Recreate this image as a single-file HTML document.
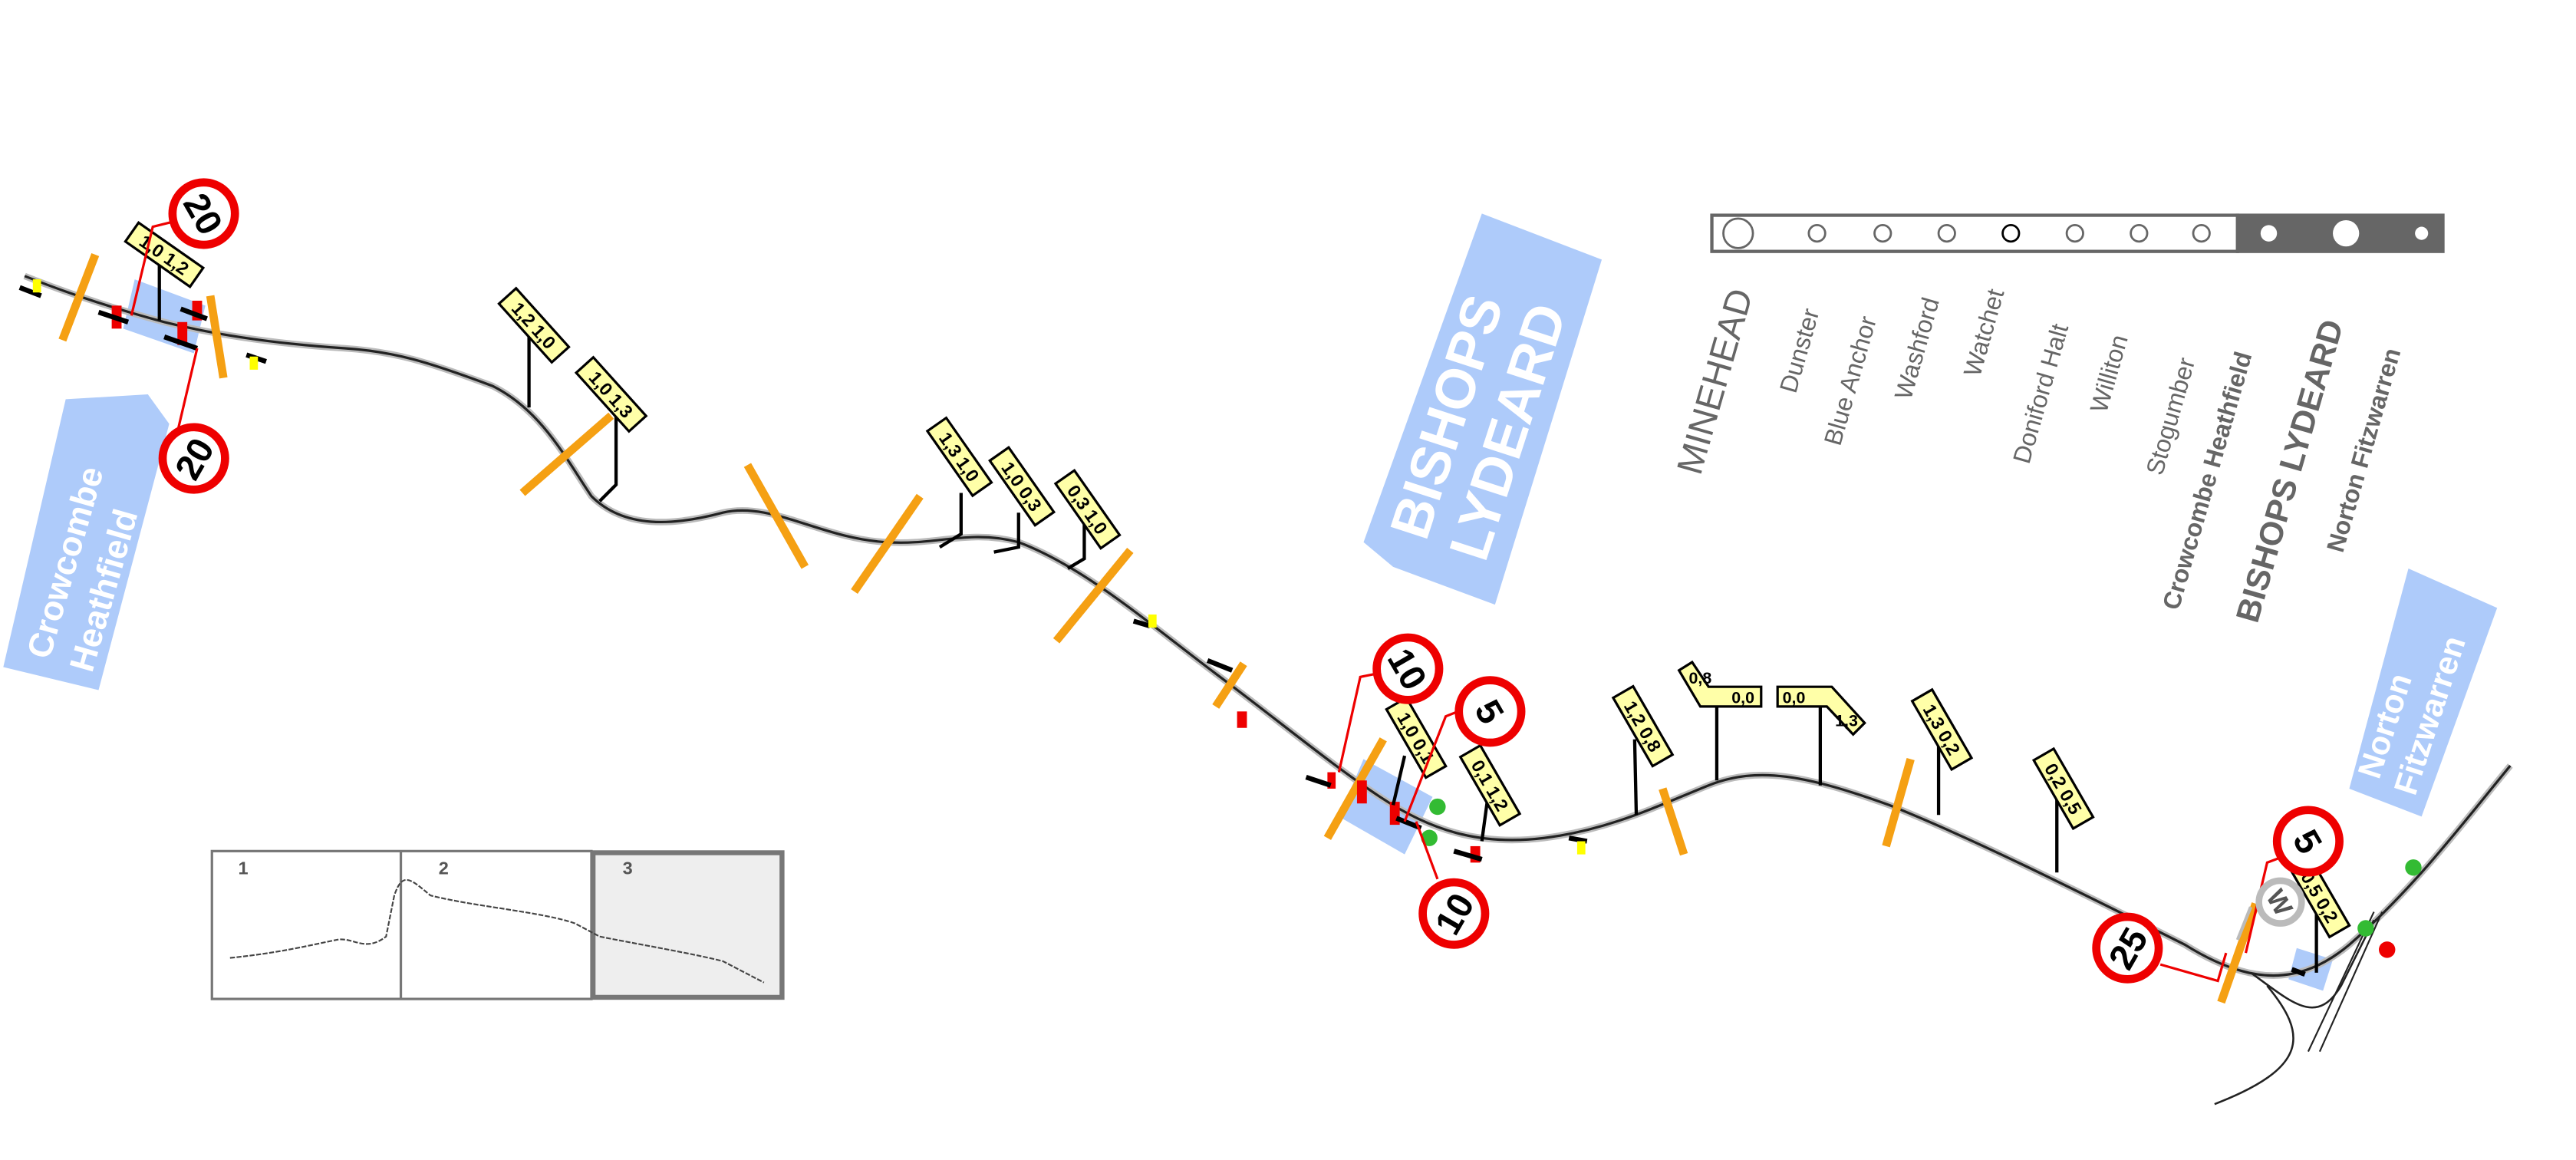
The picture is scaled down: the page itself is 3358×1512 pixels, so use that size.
<!DOCTYPE html>
<html><head><meta charset="utf-8"><style>
html,body{margin:0;padding:0;background:#fff;}
svg{display:block;}
text{font-family:"Liberation Sans",sans-serif;}
</style></head><body>
<svg width="3358" height="1512" viewBox="0 0 1568 706" xmlns="http://www.w3.org/2000/svg">
<rect width="1568" height="706" fill="#fff"/>
<!-- blue station labels -->
<polygon points="40,243 90,240 103,258 60,420 2,406" fill="#aecbfa"/>
<text transform="translate(30,402) rotate(-74)" font-size="21" font-weight="bold" fill="#fff">Crowcombe</text>
<text transform="translate(56,410) rotate(-74)" font-size="21" font-weight="bold" fill="#fff">Heathfield</text>
<polygon points="902,130 975,158 910,368 848,345 830,330" fill="#aecbfa"/>
<text transform="translate(868,330) rotate(-72)" font-size="34" font-weight="bold" fill="#fff">BISHOPS</text>
<text transform="translate(904,343) rotate(-72)" font-size="34" font-weight="bold" fill="#fff">LYDEARD</text>
<polygon points="1466,346 1520,370 1474,497 1430,480" fill="#aecbfa"/>
<text transform="translate(1448,475) rotate(-72)" font-size="20" font-weight="bold" fill="#fff">Norton</text>
<text transform="translate(1470,485) rotate(-72)" font-size="20" font-weight="bold" fill="#fff">Fitzwarren</text>
<!-- station rects -->
<polygon points="82,170 125,186 118,215 75,200" fill="#aecbfa"/>
<polygon points="830,462 872,485 855,520 815,497" fill="#aecbfa"/>
<polygon points="1398,577 1420,584 1414,603 1393,596" fill="#aecbfa"/>
<!-- track -->
<path d="M15,168 C40,178 70,188 100,196 C140,206 180,210 210,212 C240,214 260,220 300,235 C330,250 345,280 360,302 C380,322 410,320 440,312 C470,305 500,328 540,330 C570,332 590,322 620,330 C660,345 700,380 740,410 C780,440 810,465 840,485 C870,505 900,515 940,510 C980,505 1010,490 1040,478 C1070,466 1100,472 1150,490 C1200,510 1260,540 1330,575 C1370,600 1400,600 1430,575 C1470,540 1500,500 1528,466" fill="none" stroke="#bbb" stroke-width="4"/>
<path d="M15,168 C40,178 70,188 100,196 C140,206 180,210 210,212 C240,214 260,220 300,235 C330,250 345,280 360,302 C380,322 410,320 440,312 C470,305 500,328 540,330 C570,332 590,322 620,330 C660,345 700,380 740,410 C780,440 810,465 840,485 C870,505 900,515 940,510 C980,505 1010,490 1040,478 C1070,466 1100,472 1150,490 C1200,510 1260,540 1330,575 C1370,600 1400,600 1430,575 C1470,540 1500,500 1528,466" fill="none" stroke="#222" stroke-width="1.5"/>
<path d="M1370,592 C1395,610 1410,625 1425,600 L1445,560" fill="none" stroke="#222" stroke-width="1.2"/>
<path d="M1380,600 C1405,630 1405,650 1348,672" fill="none" stroke="#222" stroke-width="1.2"/>
<path d="M1405,640 L1445,555 M1412,640 L1450,555" fill="none" stroke="#222" stroke-width="1"/>
<!-- orange crossings -->
<g stroke="#f5a013" stroke-width="5">
<line x1="58" y1="155" x2="38" y2="207"/><line x1="128" y1="180" x2="136" y2="230"/>
<line x1="372" y1="253" x2="318" y2="300"/><line x1="455" y1="283" x2="490" y2="345"/>
<line x1="560" y1="302" x2="520" y2="360"/><line x1="688" y1="335" x2="643" y2="390"/>
<line x1="757" y1="404" x2="740" y2="430"/><line x1="842" y1="450" x2="808" y2="510"/>
<line x1="1012" y1="480" x2="1025" y2="520"/><line x1="1163" y1="462" x2="1148" y2="515"/>
<line x1="1373" y1="550" x2="1352" y2="610"/>
</g>
<!-- signals -->
<g fill="#e00">
<rect x="68" y="186" width="6" height="14"/><rect x="117" y="183" width="6" height="12"/><rect x="108" y="196" width="6" height="14"/>
<rect x="753" y="433" width="6" height="10"/><rect x="826" y="475" width="6" height="14"/><rect x="846" y="488" width="6" height="14"/><rect x="895" y="515" width="6" height="10"/><rect x="808" y="470" width="5" height="10"/>
</g>
<g stroke="#000" stroke-width="3">
<line x1="60" y1="190" x2="78" y2="196"/><line x1="110" y1="188" x2="126" y2="194"/><line x1="100" y1="205" x2="120" y2="212"/>
<line x1="12" y1="175" x2="25" y2="180"/><line x1="150" y1="216" x2="162" y2="220"/>
<line x1="735" y1="402" x2="750" y2="408"/><line x1="795" y1="473" x2="810" y2="478"/><line x1="850" y1="498" x2="865" y2="504"/><line x1="885" y1="518" x2="902" y2="523"/><line x1="955" y1="510" x2="966" y2="512"/><line x1="690" y1="378" x2="700" y2="381"/><line x1="1395" y1="590" x2="1403" y2="593"/>
</g>
<g fill="#ff0"><rect x="20" y="170" width="5" height="8"/><rect x="152" y="217" width="5" height="8"/><rect x="960" y="512" width="5" height="8"/><rect x="699" y="374" width="5" height="8"/></g>
<g fill="#3b3"><circle cx="875" cy="491" r="5"/><circle cx="870" cy="510" r="5"/><circle cx="1469" cy="528" r="5"/><circle cx="1440" cy="565" r="5"/></g>
<circle cx="1453" cy="578" r="5" fill="#e00"/>
<!-- tag leaders -->
<g stroke="#000" stroke-width="2" fill="none">
<line x1="97" y1="160" x2="97" y2="195"/><line x1="322" y1="202" x2="322" y2="248"/><polyline points="375,248 375,295 365,305"/>
<polyline points="585,300 585,325 572,333"/><polyline points="620,312 620,333 605,336"/><polyline points="660,312 660,340 650,346"/>
<line x1="855" y1="460" x2="848" y2="490"/><line x1="907" y1="475" x2="902" y2="512"/>
<line x1="995" y1="450" x2="996" y2="496"/><line x1="1045" y1="423" x2="1045" y2="475"/><line x1="1108" y1="420" x2="1108" y2="478"/>
<line x1="1180" y1="448" x2="1180" y2="496"/><line x1="1252" y1="470" x2="1252" y2="531"/><line x1="1410" y1="555" x2="1410" y2="592"/>
</g>
<!-- yellow tags -->
<g font-size="11" font-weight="bold">
<g transform="translate(100,155) rotate(35)"><rect x="-24" y="-7" width="48" height="14" fill="#ffffa8" stroke="#000" stroke-width="1.5"/><text x="0" y="4" text-anchor="middle">1,0 1,2</text></g>
<g transform="translate(325,198) rotate(48)"><rect x="-24" y="-7" width="48" height="14" fill="#ffffa8" stroke="#000" stroke-width="1.5"/><text x="0" y="4" text-anchor="middle">1,2 1,0</text></g>
<g transform="translate(372,240) rotate(48)"><rect x="-24" y="-7" width="48" height="14" fill="#ffffa8" stroke="#000" stroke-width="1.5"/><text x="0" y="4" text-anchor="middle">1,0 1,3</text></g>
<g transform="translate(584,278) rotate(55)"><rect x="-24" y="-7" width="48" height="14" fill="#ffffa8" stroke="#000" stroke-width="1.5"/><text x="0" y="4" text-anchor="middle">1,3 1,0</text></g>
<g transform="translate(622,296) rotate(55)"><rect x="-24" y="-7" width="48" height="14" fill="#ffffa8" stroke="#000" stroke-width="1.5"/><text x="0" y="4" text-anchor="middle">1,0 0,3</text></g>
<g transform="translate(662,310) rotate(55)"><rect x="-24" y="-7" width="48" height="14" fill="#ffffa8" stroke="#000" stroke-width="1.5"/><text x="0" y="4" text-anchor="middle">0,3 1,0</text></g>
<g transform="translate(862,449) rotate(60)"><rect x="-24" y="-7" width="48" height="14" fill="#ffffa8" stroke="#000" stroke-width="1.5"/><text x="0" y="4" text-anchor="middle">1,0 0,1</text></g>
<g transform="translate(907,478) rotate(60)"><rect x="-24" y="-7" width="48" height="14" fill="#ffffa8" stroke="#000" stroke-width="1.5"/><text x="0" y="4" text-anchor="middle">0,1 1,2</text></g>
<g transform="translate(1000,442) rotate(60)"><rect x="-24" y="-7" width="48" height="14" fill="#ffffa8" stroke="#000" stroke-width="1.5"/><text x="0" y="4" text-anchor="middle">1,2 0,8</text></g>
<polygon points="1022,408 1030,403 1040,418 1072,418 1072,430 1035,430" fill="#ffffa8" stroke="#000" stroke-width="1.5"/><text x="1028" y="416" font-size="10">0,8</text><text x="1054" y="428" font-size="10">0,0</text>
<polygon points="1082,418 1115,418 1135,440 1128,447 1112,430 1082,430" fill="#ffffa8" stroke="#000" stroke-width="1.5"/><text x="1085" y="428" font-size="10">0,0</text><text x="1117" y="442" font-size="10">1,3</text>
<g transform="translate(1182,444) rotate(60)"><rect x="-24" y="-7" width="48" height="14" fill="#ffffa8" stroke="#000" stroke-width="1.5"/><text x="0" y="4" text-anchor="middle">1,3 0,2</text></g>
<g transform="translate(1256,480) rotate(60)"><rect x="-24" y="-7" width="48" height="14" fill="#ffffa8" stroke="#000" stroke-width="1.5"/><text x="0" y="4" text-anchor="middle">0,2 0,5</text></g>
<g transform="translate(1412,546) rotate(60)"><rect x="-24" y="-7" width="48" height="14" fill="#ffffa8" stroke="#000" stroke-width="1.5"/><text x="0" y="4" text-anchor="middle">0,5 0,2</text></g>
</g>
<!-- red leaders -->
<g stroke="#e00" stroke-width="1.5" fill="none">
<polyline points="105,135 93,138 80,192"/><polyline points="108,263 120,212"/>
<polyline points="838,410 828,412 815,470"/><polyline points="890,432 880,436 855,500"/><polyline points="875,535 862,500"/>
<polyline points="1388,522 1380,525 1367,580"/><polyline points="1315,587 1350,597 1355,580"/>
</g>
<line x1="1370" y1="552" x2="1362" y2="572" stroke="#bbb" stroke-width="2"/>
<!-- speed signs -->
<g font-size="22" font-weight="bold" text-anchor="middle">
<g transform="translate(124,130)"><circle r="19" fill="#fff" stroke="#e00" stroke-width="5"/><text y="8" transform="rotate(60)">20</text></g>
<g transform="translate(118,279)"><circle r="19" fill="#fff" stroke="#e00" stroke-width="5"/><text y="8" transform="rotate(-60)">20</text></g>
<g transform="translate(857,407)"><circle r="19" fill="#fff" stroke="#e00" stroke-width="5"/><text y="8" transform="rotate(60)">10</text></g>
<g transform="translate(907,433)"><circle r="19" fill="#fff" stroke="#e00" stroke-width="5"/><text y="8" transform="rotate(60)">5</text></g>
<g transform="translate(885,556)"><circle r="19" fill="#fff" stroke="#e00" stroke-width="5"/><text y="8" transform="rotate(-60)">10</text></g>
<g transform="translate(1405,512)"><circle r="19" fill="#fff" stroke="#e00" stroke-width="5"/><text y="8" transform="rotate(60)">5</text></g>
<g transform="translate(1295,577)"><circle r="19" fill="#fff" stroke="#e00" stroke-width="5"/><text y="8" transform="rotate(-60)">25</text></g>
<g transform="translate(1388,549)"><circle r="13" fill="#fff" stroke="#bbb" stroke-width="4"/><text y="6" font-size="16" fill="#555" transform="rotate(60)">W</text></g>
</g>
<!-- legend -->
<rect x="1042" y="131" width="320" height="22" fill="#fff" stroke="#666" stroke-width="2"/>
<rect x="1361" y="130" width="127" height="24" fill="#666"/>
<g fill="none" stroke="#666" stroke-width="1.3">
<ellipse cx="1058" cy="142" rx="9" ry="9"/><circle cx="1106" cy="142" r="5"/><circle cx="1146" cy="142" r="5"/><circle cx="1185" cy="142" r="5"/><circle cx="1224" cy="142" r="5" stroke="#000"/><circle cx="1263" cy="142" r="5"/><circle cx="1302" cy="142" r="5"/><circle cx="1340" cy="142" r="5"/>
</g>
<g fill="#fff"><circle cx="1381" cy="142" r="5"/><circle cx="1428" cy="142" r="8"/><circle cx="1474" cy="142" r="4"/></g>
<g fill="#666">
<text transform="translate(1035,290) rotate(-74)" font-size="22">MINEHEAD</text>
<text transform="translate(1093,240) rotate(-74)" font-size="15">Dunster</text>
<text transform="translate(1120,272) rotate(-74)" font-size="15">Blue Anchor</text>
<text transform="translate(1163,244) rotate(-74)" font-size="15">Washford</text>
<text transform="translate(1205,230) rotate(-74)" font-size="15">Watchet</text>
<text transform="translate(1235,283) rotate(-74)" font-size="15">Doniford Halt</text>
<text transform="translate(1282,252) rotate(-74)" font-size="15">Williton</text>
<text transform="translate(1316,290) rotate(-74)" font-size="15">Stogumber</text>
<text transform="translate(1326,372) rotate(-74)" font-size="15" font-weight="bold">Crowcombe Heathfield</text>
<text transform="translate(1374,380) rotate(-74)" font-size="20" font-weight="bold">BISHOPS LYDEARD</text>
<text transform="translate(1426,337) rotate(-74)" font-size="15" font-weight="bold">Norton Fitzwarren</text>
</g>
<!-- inset -->
<rect x="129" y="518" width="231" height="90" fill="#fff" stroke="#777" stroke-width="1.5"/>
<line x1="244" y1="518" x2="244" y2="608" stroke="#777" stroke-width="1.5"/>
<rect x="361" y="519" width="115" height="88" fill="#eee" stroke="#777" stroke-width="3"/>
<g font-size="11" font-weight="bold" fill="#555"><text x="145" y="532">1</text><text x="267" y="532">2</text><text x="379" y="532">3</text></g>
<path d="M140,583 C170,580 190,575 205,572 C215,570 222,580 235,570 L240,545 C245,530 250,535 262,545 C290,552 330,555 350,562 L365,570 C390,575 420,580 440,585 L465,598" fill="none" stroke="#444" stroke-width="1" stroke-dasharray="3,1"/>
</svg>
</body></html>
